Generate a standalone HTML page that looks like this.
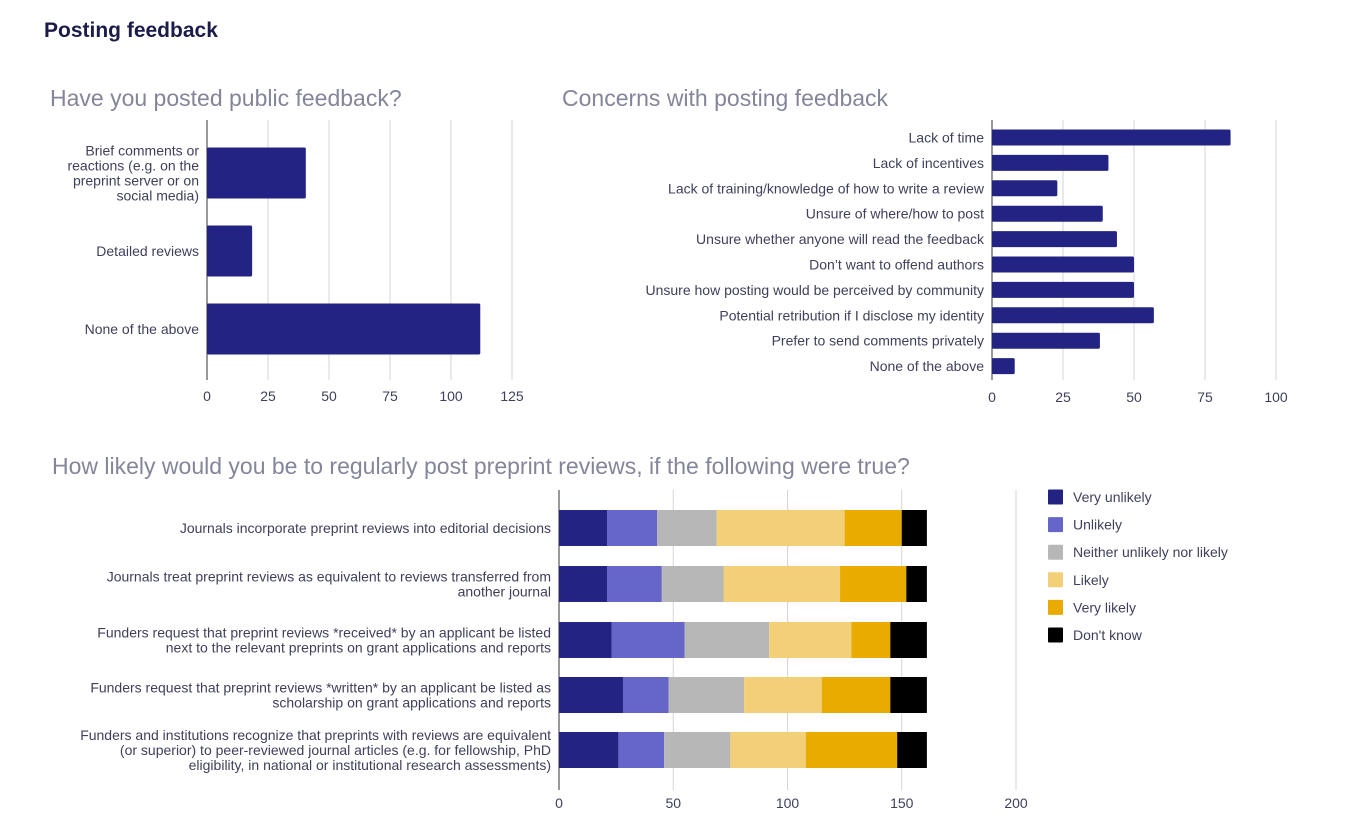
<!DOCTYPE html>
<html><head><meta charset="utf-8">
<style>
html,body{margin:0;padding:0;background:#fff;}
body{width:1352px;height:823px;overflow:hidden;font-family:"Liberation Sans",sans-serif;}
svg text{font-family:"Liberation Sans",sans-serif;}
</style></head>
<body>
<svg id="svg" width="1352" height="823" xmlns="http://www.w3.org/2000/svg">
<text x="44" y="37" font-size="21" font-weight="bold" fill="#1c1c4a">Posting feedback</text>
<text x="50" y="106" font-size="23" fill="#85859a">Have you posted public feedback?</text>
<text x="562" y="106" font-size="23" fill="#85859a">Concerns with posting feedback</text>
<text x="52" y="474" font-size="23" fill="#85859a">How likely would you be to regularly post preprint reviews, if the following were true?</text>
<g id="c1"></g>
<g id="c2"></g>
<g id="c3"></g>
<g id="lg"></g>
</svg>
<script>
const c1Cats=[["Brief comments or","reactions (e.g. on the","preprint server or on","social media)"],["Detailed reviews"],["None of the above"]];
const c1Vals=[40.5,18.5,112];
const c1Ticks=[0,25,50,75,100,125];

const c2Cats=["Lack of time","Lack of incentives","Lack of training/knowledge of how to write a review","Unsure of where/how to post","Unsure whether anyone will read the feedback","Don\u2019t want to offend authors","Unsure how posting would be perceived by community","Potential retribution if I disclose my identity","Prefer to send comments privately","None of the above"];
const c2Vals=[84,41,23,39,44,50,50,57,38,8];
const c2Ticks=[0,25,50,75,100];

const c3Cats=[["Journals incorporate preprint reviews into editorial decisions"],["Journals treat preprint reviews as equivalent to reviews transferred from","another journal"],["Funders request that preprint reviews *received* by an applicant be listed","next to the relevant preprints on grant applications and reports"],["Funders request that preprint reviews *written* by an applicant be listed as","scholarship on grant applications and reports"],["Funders and institutions recognize that preprints with reviews are equivalent","(or superior) to peer-reviewed journal articles (e.g. for fellowship, PhD","eligibility, in national or institutional research assessments)"]];
const c3Series=["Very unlikely","Unlikely","Neither unlikely nor likely","Likely","Very likely","Don't know"];
const c3VeryUnlikely=[21,21,23,28,26];
const c3Unlikely=[22,24,32,20,20];
const c3Neither=[26,27,37,33,29];
const c3Likely=[56,51,36,34,33];
const c3VeryLikely=[25,29,17,30,40];
const c3DontKnow=[11,9,16,16,13];
const c3Ticks=[0,50,100,150,200];

const NS="http://www.w3.org/2000/svg";
const colors=["#232384","#6666c8","#b7b7b7","#f3cf77","#e9ab00","#000000"];
function mk(p,t,a){const e=document.createElementNS(NS,t);for(const k in a)e.setAttribute(k,a[k]);p.appendChild(e);return e;}
const TXT="#3f3f5c";

// Chart 1
(function(){
 const g=document.getElementById('c1');
 const x=v=>207+v*(305/125);
 const top=120,bot=380,first=173,step=78;
 c1Ticks.forEach(t=>{
  const l=mk(g,'line',{x1:x(t),x2:x(t),y1:top,y2:bot,stroke:t===0?'#333':'#d6d6d6','stroke-width':1});
  
  
  const tx=mk(g,'text',{x:x(t),y:401,'font-size':14,fill:TXT,'text-anchor':'middle'});tx.textContent=t;
  
  
 });
 c1Vals.forEach((v,i)=>{
  const cy=first+step*i;
  const r=mk(g,'rect',{x:x(0),y:cy-25.5,width:x(v)-x(0),height:51,fill:colors[0],rx:1.5});
  
  
  const lines=c1Cats[i];const n=lines.length;
  lines.forEach((s,j)=>{
   const t=mk(g,'text',{x:199,y:cy+5+(j-(n-1)/2)*15,'font-size':14,fill:TXT,'text-anchor':'end'});t.textContent=s;
   
   
  });
 });
})();

// Chart 2
(function(){
 const g=document.getElementById('c2');
 const x=v=>992+v*(284/100);
 const top=120,bot=380,step=25.4,first=137.5;
 c2Ticks.forEach(t=>{
  const l=mk(g,'line',{x1:x(t),x2:x(t),y1:top,y2:bot,stroke:t===0?'#333':'#d6d6d6','stroke-width':1});
  
  
  const tx=mk(g,'text',{x:x(t),y:402,'font-size':14,fill:TXT,'text-anchor':'middle'});tx.textContent=t;
  
  
 });
 c2Vals.forEach((v,i)=>{
  const cy=first+step*i;
  const r=mk(g,'rect',{x:x(0),y:cy-8,width:x(v)-x(0),height:16,fill:colors[0],rx:1.5});
  
  
  const t=mk(g,'text',{x:984,y:cy+5,'font-size':14,fill:TXT,'text-anchor':'end'});t.textContent=c2Cats[i];
  
  
 });
})();

// Chart 3
(function(){
 const g=document.getElementById('c3');
 const x=v=>559+v*(228.5/100);
 const top=490,bot=790,cys=[528,584,640,695,750];
 const series=[c3VeryUnlikely,c3Unlikely,c3Neither,c3Likely,c3VeryLikely,c3DontKnow];
 c3Ticks.forEach(t=>{
  const l=mk(g,'line',{x1:x(t),x2:x(t),y1:top,y2:bot,stroke:t===0?'#333':'#d6d6d6','stroke-width':1});
  
  
  const tx=mk(g,'text',{x:x(t),y:808,'font-size':14,fill:TXT,'text-anchor':'middle'});tx.textContent=t;
  
  
 });
 c3Cats.forEach((lines,i)=>{
  const cy=cys[i];let acc=0;
  series.forEach((s,k)=>{
   const v=s[i];
   const r=mk(g,'rect',{x:x(acc),y:cy-18,width:x(acc+v)-x(acc),height:36,fill:colors[k]});
   
   
   acc+=v;
  });
  const n=lines.length;
  lines.forEach((s,j)=>{
   const t=mk(g,'text',{x:551,y:cy+5+(j-(n-1)/2)*15,'font-size':14,fill:TXT,'text-anchor':'end'});t.textContent=s;
   
   
  });
 });
 const lg=document.getElementById('lg');
 c3Series.forEach((s,k)=>{
  const y=497+k*27.6;
  const r=mk(lg,'rect',{x:1048,y:y-7.5,width:15,height:15,fill:colors[k],rx:1});
  
  
  const t=mk(lg,'text',{x:1073,y:y+5,'font-size':14,fill:TXT});t.textContent=s;
  
  
 });
})();
</script>
</body></html>
